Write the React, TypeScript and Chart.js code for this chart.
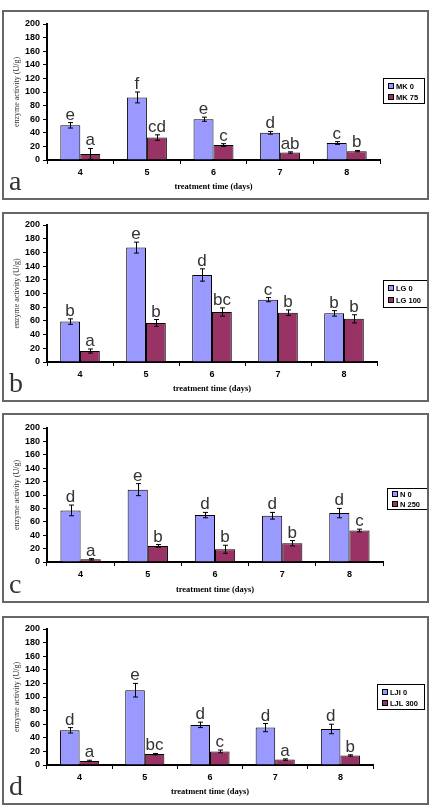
import React, { useEffect, useRef } from "react";
import { Chart, registerables } from "chart.js";

Chart.register(...registerables);

// ---------- data ----------
const categories = ["4", "5", "6", "7", "8"];

const seriesA = ["MK 0", "MK 75"];
const mk0 = [51, 92, 60, 40, 25];
const mk0Err = [4, 8, 3, 2, 2];
const mk75 = [9, 33, 22, 11, 13];
const mk75Err = [8, 4, 2, 1, 1];
const lettersMk0 = ["e", "f", "e", "d", "c"];
const lettersMk75 = ["a", "cd", "c", "ab", "b"];

const seriesB = ["LG 0", "LG 100"];
const lg0 = [59, 167, 127, 91, 71];
const lg0Err = [4, 8, 9, 3, 4];
const lg100 = [16, 57, 73, 72, 63];
const lg100Err = [3, 5, 6, 4, 6];
const lettersLg0 = ["b", "e", "d", "c", "b"];
const lettersLg100 = ["a", "b", "bc", "b", "b"];

const seriesC = ["N 0", "N 250"];
const n0 = [77, 108, 70, 69, 73];
const n0Err = [8, 9, 4, 5, 7];
const n250 = [4, 24, 19, 28, 47];
const n250Err = [1, 2, 6, 4, 2];
const lettersN0 = ["d", "e", "d", "d", "d"];
const lettersN250 = ["a", "b", "b", "b", "c"];

const seriesD = ["LJI 0", "LJL 300"];
const lji0 = [51, 110, 59, 55, 53];
const lji0Err = [4, 10, 4, 6, 7];
const ljl300 = [6, 16, 20, 8, 14];
const ljl300Err = [1, 1, 2, 1, 1];
const lettersLji0 = ["d", "e", "d", "d", "d"];
const lettersLjl300 = ["a", "bc", "c", "a", "b"];

const yMin = 0;
const yMax = 200;
const yStep = 20;

const xTitle = "treatment time (days)";
const yTitle = "enzyme activity (U/g)";

const colorControl = "#9999FF";
const colorTreated = "#993366";

const SANS = '"Liberation Sans", Arial, sans-serif';
const SERIF = '"Liberation Serif", "Times New Roman", serif';

type PanelProps = {
  top: number;
  height: number;
  padTop: number;
  padRight: number;
  xHeight: number;
  legend: { x: number; y: number; w: number; h: number };
  names: string[];
  values: number[][];
  errors: number[][];
  letters: string[][];
  panelLetter: string;
};

const PANEL_LEFT = 2;
const PANEL_WIDTH = 427;
const BORDER = 2;

function Panel(p: PanelProps) {
  const ref = useRef<HTMLCanvasElement | null>(null);
  const innerW = PANEL_WIDTH - BORDER * 2;
  const innerH = p.height - BORDER * 2;

  useEffect(() => {
    if (!ref.current) return;
    const overlay = {
      id: "overlay",
      afterDatasetsDraw(chart: any) {
        const ctx = chart.ctx;
        const ys = chart.scales.y;
        chart.data.datasets.forEach((ds: any, di: number) => {
          const meta = chart.getDatasetMeta(di);
          meta.data.forEach((bar: any, i: number) => {
            const v = ds.data[i];
            const e = p.errors[di][i];
            const x = Math.round(bar.x) + 0.5;
            const yt = ys.getPixelForValue(v + e);
            const yb = ys.getPixelForValue(Math.max(v - e, 0));
            ctx.save();
            ctx.strokeStyle = "#000";
            ctx.lineWidth = 1;
            ctx.beginPath();
            ctx.moveTo(x, yt);
            ctx.lineTo(x, yb);
            ctx.moveTo(x - 2.5, yt);
            ctx.lineTo(x + 2.5, yt);
            ctx.moveTo(x - 2.5, yb);
            ctx.lineTo(x + 2.5, yb);
            ctx.stroke();
            ctx.font = `17px ${SANS}`;
            ctx.fillStyle = "#333";
            ctx.textAlign = "center";
            ctx.textBaseline = "alphabetic";
            ctx.fillText(p.letters[di][i], bar.x, yt - 3);
            ctx.restore();
          });
        });
      },
      afterDraw(chart: any) {
        const ctx = chart.ctx;
        const L = p.legend;
        ctx.save();
        ctx.fillStyle = "#fff";
        ctx.fillRect(L.x, L.y, L.w, L.h);
        ctx.strokeStyle = "#000";
        ctx.lineWidth = 1;
        ctx.strokeRect(L.x + 0.5, L.y + 0.5, L.w, L.h);
        const rows = [L.y + L.h * 0.3, L.y + L.h * 0.75];
        chart.data.datasets.forEach((ds: any, di: number) => {
          const cy = Math.round(rows[di]);
          ctx.fillStyle = ds.backgroundColor;
          ctx.fillRect(L.x + 6, cy - 2, 4, 4);
          ctx.strokeStyle = "#000";
          ctx.strokeRect(L.x + 5.5, cy - 2.5, 5, 5);
          ctx.fillStyle = "#000";
          ctx.font = `bold 7.5px ${SANS}`;
          ctx.textAlign = "left";
          ctx.textBaseline = "middle";
          ctx.fillText(ds.label, L.x + 13, cy + 0.5);
        });
        // panel letter
        ctx.fillStyle = "#333";
        ctx.font = `28px ${SERIF}`;
        ctx.textAlign = "left";
        ctx.textBaseline = "alphabetic";
        ctx.fillText(p.panelLetter, 5, innerH - 8);
        ctx.restore();
      },
    };

    const chart = new Chart(ref.current, {
      type: "bar",
      data: {
        labels: categories,
        datasets: p.names.map((name, di) => ({
          label: name,
          data: p.values[di],
          backgroundColor: di === 0 ? colorControl : colorTreated,
          borderColor: "#000",
          borderWidth: 1,
          categoryPercentage: 0.6,
          barPercentage: 1,
        })),
      },
      options: {
        responsive: false,
        animation: false,
        devicePixelRatio: 1,
        layout: { padding: { top: p.padTop, right: p.padRight, left: 0, bottom: 0 } },
        plugins: { legend: { display: false }, tooltip: { enabled: false } },
        scales: {
          x: {
            grid: {
              offset: true,
              drawOnChartArea: false,
              drawTicks: true,
              tickLength: 4,
              color: "#000",
              lineWidth: 1,
            },
            border: { color: "#000", width: 2 },
            ticks: { font: { family: SANS, size: 9, weight: "bold" }, color: "#000", padding: 3 },
            title: {
              display: true,
              text: xTitle,
              font: { family: SERIF, size: 8.5, weight: "bold" },
              color: "#000",
              padding: { top: 0, bottom: 6 },
            },
            afterFit: (s: any) => {
              s.height = p.xHeight;
            },
          },
          y: {
            min: yMin,
            max: yMax,
            ticks: {
              stepSize: yStep,
              autoSkip: false,
              font: { family: SANS, size: 9, weight: "bold" },
              color: "#000",
              padding: 3,
            },
            grid: { drawOnChartArea: false, drawTicks: true, tickLength: 4, color: "#000", lineWidth: 1 },
            border: { color: "#000", width: 2 },
            title: {
              display: true,
              text: yTitle,
              font: { family: SERIF, size: 8 },
              color: "#333",
              padding: { top: 8, bottom: 0 },
            },
            afterFit: (s: any) => {
              s.width = 43;
            },
          },
        },
      },
      plugins: [overlay],
    } as any);
    return () => chart.destroy();
  }, []);

  return (
    <div
      style={{
        position: "absolute",
        left: PANEL_LEFT,
        top: p.top,
        width: innerW,
        height: innerH,
        border: `${BORDER}px solid #666`,
        background: "#fff",
      }}
    >
      <canvas ref={ref} width={innerW} height={innerH} style={{ display: "block" }} />
    </div>
  );
}

export default function App() {
  return (
    <div>
      <Panel
        top={10}
        height={190}
        padTop={12}
        padRight={47}
        xHeight={38}
        legend={{ x: 379, y: 66, w: 41, h: 25 }}
        names={seriesA}
        values={[mk0, mk75]}
        errors={[mk0Err, mk75Err]}
        letters={[lettersMk0, lettersMk75]}
        panelLetter="a"
      />
      <Panel
        top={212}
        height={190}
        padTop={11}
        padRight={50}
        xHeight={38}
        legend={{ x: 379, y: 66, w: 44, h: 27 }}
        names={seriesB}
        values={[lg0, lg100]}
        errors={[lg0Err, lg100Err]}
        letters={[lettersLg0, lettersLg100]}
        panelLetter="b"
      />
      <Panel
        top={413}
        height={190}
        padTop={13}
        padRight={44}
        xHeight={39}
        legend={{ x: 383, y: 73, w: 40, h: 21 }}
        names={seriesC}
        values={[n0, n250]}
        errors={[n0Err, n250Err]}
        letters={[lettersN0, lettersN250]}
        panelLetter="c"
      />
      <Panel
        top={616}
        height={189}
        padTop={11}
        padRight={54}
        xHeight={38}
        legend={{ x: 373, y: 66, w: 47, h: 25 }}
        names={seriesD}
        values={[lji0, ljl300]}
        errors={[lji0Err, ljl300Err]}
        letters={[lettersLji0, lettersLjl300]}
        panelLetter="d"
      />
    </div>
  );
}
